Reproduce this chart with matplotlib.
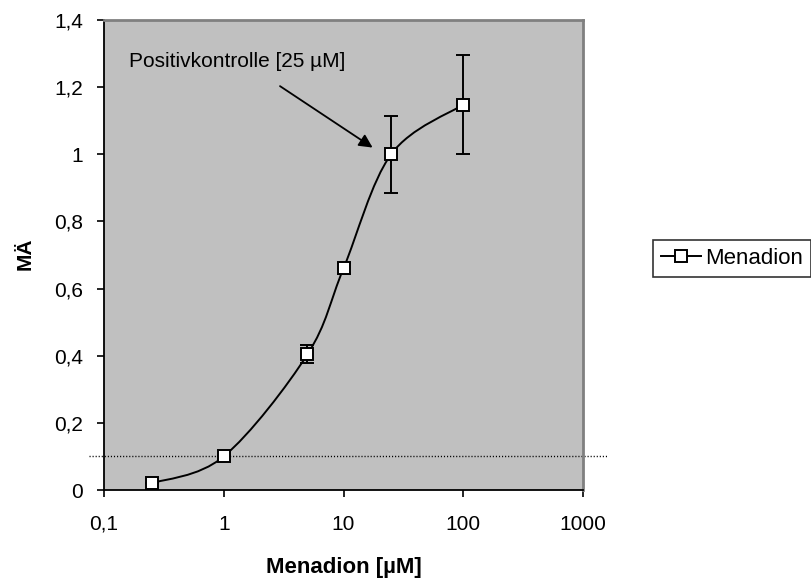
import numpy as np
import matplotlib
matplotlib.use("Agg")
import matplotlib.pyplot as plt
from matplotlib.path import Path
from matplotlib.patches import PathPatch
from matplotlib.lines import Line2D

# Data
conc = [0.25, 1, 5, 10, 25, 100]
ma = [0.02, 0.10, 0.404, 0.66, 1.00, 1.148]
err = [0.0, 0.0, 0.027, 0.016, 0.114, 0.148]
threshold = 0.1
x_ticks = [0.1, 1, 10, 100, 1000]
x_ticklabels = ["0,1", "1", "10", "100", "1000"]
y_ticks = [0, 0.2, 0.4, 0.6, 0.8, 1.0, 1.2, 1.4]
y_ticklabels = ["0", "0,2", "0,4", "0,6", "0,8", "1", "1,2", "1,4"]

plt.rcParams['font.family'] = ['Liberation Sans', 'DejaVu Sans']

W, H = 811, 578
fig = plt.figure(figsize=(W / 100, H / 100), dpi=100)
ax = fig.add_axes([104 / W, 1 - 490 / H, (583 - 104) / W, (490 - 20) / H])
ax.set_facecolor('#C0C0C0')
ax.set_xscale('log')
ax.set_xlim(0.1, 1000)
ax.set_ylim(0, 1.4)

# Smoothed line (Excel-like Bezier through the points, built in log-x space)
lx = np.log10(conc)
yy = np.array(ma)
n = len(lx)
verts = [(lx[0], yy[0])]
codes = [Path.MOVETO]
for i in range(n - 1):
    p0 = np.array([lx[max(i - 1, 0)], yy[max(i - 1, 0)]])
    p1 = np.array([lx[i], yy[i]])
    p2 = np.array([lx[i + 1], yy[i + 1]])
    p3 = np.array([lx[min(i + 2, n - 1)], yy[min(i + 2, n - 1)]])
    c1 = p1 + (p2 - p0) / 6.0
    c2 = p2 - (p3 - p1) / 6.0
    verts += [tuple(c1), tuple(c2), tuple(p2)]
    codes += [Path.CURVE4] * 3
verts = [(10 ** vx, vy) for vx, vy in verts]
path = Path(verts, codes)
ax.add_patch(PathPatch(path, facecolor='none', edgecolor='black', lw=1.4, zorder=3))

# Error bars
ax.errorbar(conc, ma, yerr=err, fmt='none', ecolor='black', elinewidth=1.4,
            capsize=5, capthick=1.4, zorder=4)
# Markers
ax.plot(conc, ma, linestyle='none', marker='s', markersize=8.5,
        markerfacecolor='white', markeredgecolor='black', markeredgewidth=1.4, zorder=5)

# Dotted threshold line extending slightly outside the axes
ax.plot([0.075, 1620], [threshold, threshold], color='black', lw=1.0,
        linestyle=(0, (0.8, 1.4)), clip_on=False, zorder=2)

# Annotation
ax.annotate("", xy=(17.5, 1.02), xytext=(2.95, 1.203),
            arrowprops=dict(arrowstyle='-|>', color='black', lw=1.3,
                            mutation_scale=20, shrinkA=0, shrinkB=0), zorder=6)
ax.text(0.162, 1.275, "Positivkontrolle [25 µM]", fontsize=15, va='center', ha='left')

# Ticks
ax.set_xticks(x_ticks)
ax.set_xticklabels(x_ticklabels)
ax.xaxis.set_minor_locator(matplotlib.ticker.NullLocator())
ax.set_yticks(y_ticks)
ax.set_yticklabels(y_ticklabels)
ax.tick_params(axis='both', direction='out', length=5, width=1.2, labelsize=15,
               colors='black')
ax.tick_params(axis='x', pad=13)
ax.tick_params(axis='y', pad=10)

for s in ['left', 'bottom']:
    ax.spines[s].set_color('black')
    ax.spines[s].set_linewidth(1.3)
for s in ['top', 'right']:
    ax.spines[s].set_color('#808080')
    ax.spines[s].set_linewidth(2)

fig.text(343.5 / W, 1 - 568 / H, "Menadion [µM]", fontsize=16, fontweight='bold',
         ha='center', va='center')
fig.text(25 / W, 1 - 254 / H, "MÄ", fontsize=15, fontweight='bold',
         ha='center', va='center', rotation=90)

# Legend
handle = Line2D([], [], color='black', lw=1.4, marker='s', markersize=8.5,
                markerfacecolor='white', markeredgecolor='black', markeredgewidth=1.4)
leg = fig.legend([handle], ["Menadion"], loc='lower right',
                 bbox_to_anchor=(811 / W, 1 - 277 / H), fontsize=16, frameon=True,
                 fancybox=False, borderpad=0.35, handlelength=1.8, handletextpad=0.2,
                 borderaxespad=0)
leg.get_frame().set_edgecolor('black')
leg.get_frame().set_linewidth(1.2)

fig.savefig("out.png", dpi=100)
